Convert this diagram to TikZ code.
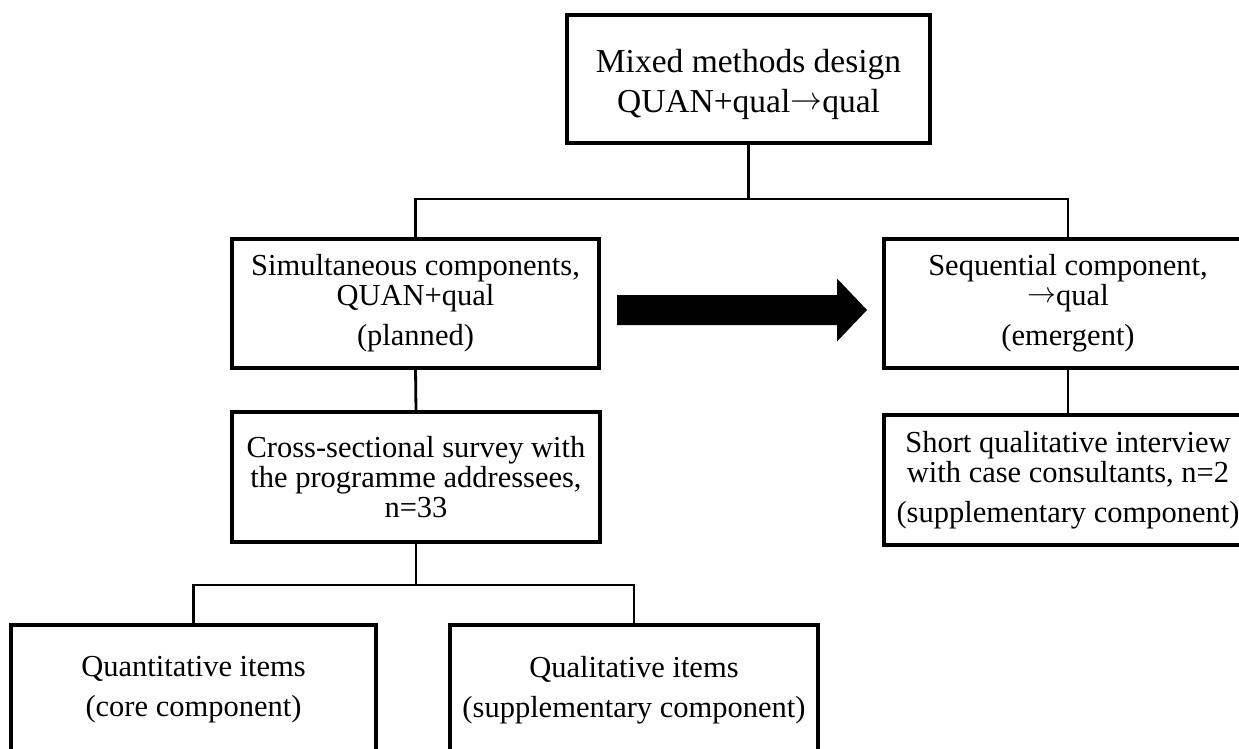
\documentclass[tikz,border=0pt]{standalone}
\usepackage{fontspec}
\setmainfont{Liberation Serif}
\usetikzlibrary{calc}
\newcommand{\rarr}{\raisebox{0.1em}{\resizebox{0.95em}{!}{$\rightarrow$}}}
\begin{document}
\begin{tikzpicture}[x=1pt,y=-1pt,
  box/.style={draw, line width=3.2pt, rectangle, inner sep=0pt, outer sep=0pt,
    align=center, anchor=north west, font=\fontsize{30.5}{30}\selectfont},
  bigbox/.style={box, font=\fontsize{33.5}{40}\selectfont},
  conn/.style={line width=2.8pt}]
\useasboundingbox (0,0) rectangle (1239,749);
\clip (0,0) rectangle (1239,749);
% boxes
\node[bigbox, minimum width=363pt, minimum height=128pt] (top) at (567,15)
  {\rule{0pt}{35pt}Mixed methods design\\QUAN+qual\rarr qual};
\node[box, minimum width=367pt, minimum height=129pt] (sim) at (232,239)
  {Simultaneous components,\\QUAN+qual\\[10pt](planned)};
\node[box, minimum width=368pt, minimum height=129pt] (seq) at (884,239)
  {Sequential component,\\\rarr qual\\[10pt](emergent)};
\node[box, minimum width=368pt, minimum height=130pt] (cross) at (232,412)
  {Cross-sectional survey with\\the programme addressees,\\n=33};
\node[box, minimum width=368pt, minimum height=130pt] (short) at (884,415)
  {Short qualitative interview\\with case consultants, n=2\\[10.5pt](supplementary component)};
\node[box, minimum width=365pt, minimum height=130pt] (quant) at (11,625)
  {Quantitative items\\[10pt](core component)};
\node[box, minimum width=368pt, minimum height=130pt] (qual) at (450,625)
  {Qualitative items\\[10pt](supplementary component)};
% connectors
\coordinate (j1) at ($(top.south)+(0,56)$);
\draw[conn] (top.south) -- (j1);
\draw[conn] (sim.north) |- (j1) -| (seq.north);
\draw[conn] (sim.south) -- (cross.north);
\draw[conn] (seq.south) -- (short.north);
\coordinate (j2) at ($(cross.south)+(0,43)$);
\draw[conn] (cross.south) -- (j2);
\draw[conn] (quant.north) |- (j2) -| (qual.north);
% block arrow
\coordinate (a0) at ($(sim.east)+(18,6.5)$);
\coordinate (a1) at ($(seq.west)+(-17,6.5)$);
\fill ($(a0)+(0,-15)$) -- ($(a1)+(-30,-15)$) -- ($(a1)+(-30,-31.5)$) -- (a1)
  -- ($(a1)+(-30,31.5)$) -- ($(a1)+(-30,15)$) -- ($(a0)+(0,15)$) -- cycle;
\end{tikzpicture}
\end{document}
